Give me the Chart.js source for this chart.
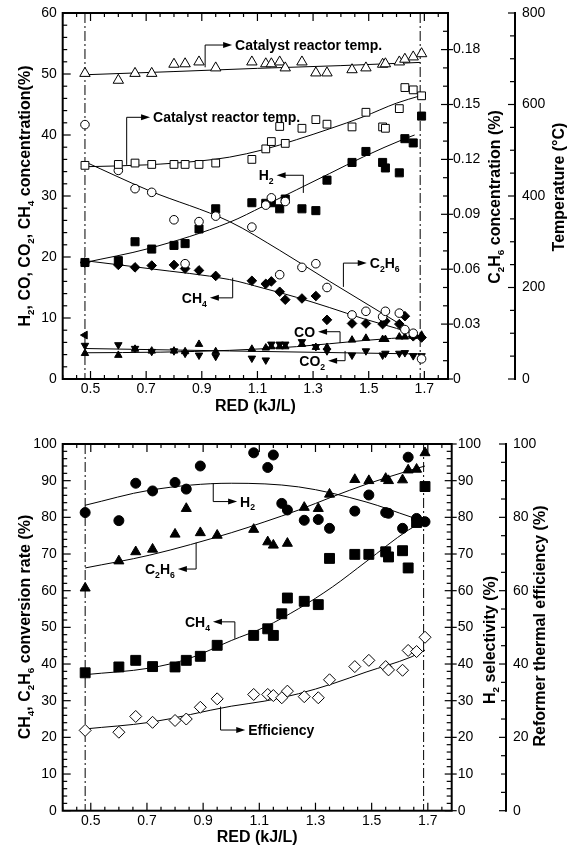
<!DOCTYPE html>
<html>
<head>
<meta charset="utf-8">
<script src="https://cdn.jsdelivr.net/npm/chart.js@4.4.1/dist/chart.umd.min.js"></script>
<style>
  body { margin: 0; background: #fff; }
  .wrap { position: relative; width: 578px; height: 847px; }
  canvas { position: absolute; left: 0; top: 0; }
</style>
</head>
<body>
<div class="wrap">
  <canvas id="top" width="578" height="847"></canvas>
  <canvas id="bottom" width="578" height="847"></canvas>
</div>
<script>
// RED (kJ/L) of every measurement, shared by all series
const red = [0.48, 0.60, 0.66, 0.72, 0.80, 0.84, 0.89, 0.95, 1.08, 1.13, 1.15, 1.18, 1.20, 1.26, 1.31, 1.35, 1.44, 1.49, 1.55, 1.56, 1.61, 1.63, 1.66, 1.69]

// top panel
const tempTriangle = [668, 653, 668, 668, 688, 689, 693, 680, 693, 689, 689, 693, 680, 693, 669, 669, 676, 680, 688, 689, 693, 699, 704, 711]
const tempSquare = [467, 469, 472, 469, 469, 469, 469, 472, 480, 503, 519, 552, 515, 548, 567, 557, 551, 583, 551, 548, 591, 637, 632, 619]
const c2h6Conc = [0.139, 0.114, 0.104, 0.102, 0.087, 0.063, 0.086, 0.089, 0.083, 0.095, 0.099, 0.057, 0.097, 0.061, 0.063, 0.050, 0.035, 0.037, 0.034, 0.037, 0.036, 0.027, 0.025, 0.011]
const h2Conc = [19.1, 19.4, 22.5, 21.3, 21.9, 22.2, 24.6, 27.9, 28.9, 28.8, 28.9, 27.9, 29.5, 27.9, 27.6, 32.6, 35.5, 37.3, 35.5, 34.6, 33.8, 39.4, 38.7, 43.1]
const ch4Conc = [19.1, 18.7, 18.3, 18.6, 18.7, 18.1, 17.8, 16.9, 16.1, 15.6, 16.0, 14.3, 13.0, 13.2, 13.6, 9.7, 9.1, 9.1, 9.0, 9.5, 9.0, 10.3, 7.0, 6.8]
const coConc = [4.2, 3.9, 4.9, 4.6, 4.6, 4.5, 5.7, 4.5, 4.9, 5.1, 5.3, 5.3, 5.3, 5.7, 5.2, 5.2, 6.4, 6.7, 6.5, 6.5, 6.9, 6.9, 7.0, 7.2]
const co2Conc = [5.5, 5.6, 5.0, 4.5, 4.6, 4.2, 3.9, 3.7, 3.4, 3.1, 5.7, 5.7, 5.7, 6.1, 5.3, 4.6, 3.9, 4.6, 3.9, 4.2, 4.2, 4.3, 3.8, 3.8]
const extraPointX = [0.48]
const extraPointY = [7.2]

// fitted curves of the top panel
const tempTriFitX = [0.48, 0.8, 1.1, 1.4, 1.685]
const tempTriFitY = [665, 672, 679, 685, 692]
const tempSqFitX = [0.48, 0.7, 0.9, 1.0, 1.12, 1.24, 1.36, 1.48, 1.6, 1.685]
const tempSqFitY = [464, 468, 477, 485, 501, 523, 547, 573, 603, 619]
const c2h6FitX = [0.48, 0.71, 1.0, 1.18, 1.36, 1.54, 1.685]
const c2h6FitY = [0.1187, 0.103, 0.086, 0.0703, 0.0533, 0.0367, 0.0233]
const h2FitX = [0.48, 0.71, 1.0, 1.12, 1.24, 1.36, 1.48, 1.63, 1.665]
const h2FitY = [19.1, 21.4, 25.7, 28.3, 31.0, 33.7, 36.4, 39.4, 40.0]
const ch4FitX = [0.48, 0.71, 1.0, 1.12, 1.24, 1.36, 1.48, 1.6, 1.685]
const ch4FitY = [19.4, 18.1, 16.3, 14.9, 13.4, 11.7, 9.9, 8.3, 7.0]
const coFitX = [0.48, 0.75, 1.0, 1.24, 1.48, 1.685]
const coFitY = [4.3, 4.4, 4.7, 5.3, 6.3, 7.0]
const co2FitX = [0.48, 1.0, 1.685]
const co2FitY = [5.0, 4.6, 4.1]

// bottom panel
const h2Selectivity = [81.3, 79.1, 89.3, 87.2, 89.5, 87.7, 94.0, null, 97.6, 93.6, 97.0, 83.8, 82.0, 79.2, 79.4, 77.0, 81.7, 86.1, 81.3, 81.1, 77.0, 96.4, 79.7, 78.8]
const c2h6Conversion = [60.7, 68.1, 70.6, 71.3, 75.4, 82.4, 75.8, 75.1, 76.7, 73.3, 72.4, null, 72.9, 82.7, 82.4, 86.3, 90.3, 90.0, 90.6, 90.0, 90.2, 92.9, 93.1, 97.6]
const ch4Conversion = [37.6, 39.2, 41.0, 39.3, 39.2, 41.0, 42.1, 45.1, 47.8, 49.6, 47.8, 53.7, 58.0, 57.1, 56.2, 68.8, 69.9, 69.9, 70.6, 69.2, 70.9, 66.2, 78.6, 88.4]
const efficiency = [21.9, 21.4, 25.7, 24.1, 24.6, 25.0, 28.2, 30.5, 31.7, 31.7, 31.4, 30.8, 32.6, 31.1, 30.8, 35.7, 39.3, 41.0, 39.3, 38.4, 38.3, 43.7, 43.4, 47.3]

const selFitX = [0.48, 0.71, 1.0, 1.24, 1.48, 1.64, 1.685]
const selFitY = [83.3, 87.4, 89.3, 88.3, 84.2, 80.1, 79.0]
const c2h6ConvFitX = [0.48, 0.71, 1.0, 1.12, 1.24, 1.36, 1.48, 1.64, 1.69]
const c2h6ConvFitY = [66.2, 69.7, 75.8, 78.8, 82.0, 85.6, 89.0, 92.9, 94.0]
const ch4ConvFitX = [0.48, 0.71, 0.85, 1.0, 1.12, 1.24, 1.36, 1.48, 1.63, 1.685]
const ch4ConvFitY = [37.1, 38.9, 41.5, 46.4, 50.1, 55.1, 61.0, 67.9, 76.5, 78.8]
const effFitX = [0.48, 0.71, 1.0, 1.12, 1.24, 1.36, 1.48, 1.64, 1.69]
const effFitY = [22.3, 24.1, 28.5, 29.9, 31.9, 34.6, 37.8, 41.9, 43.8]

// tick labels
const xTickLabels = ['0.5', '0.7', '0.9', '1.1', '1.3', '1.5', '1.7']
const concTicks = ['0', '10', '20', '30', '40', '50', '60']
const c2h6Ticks = ['0', '0.03', '0.06', '0.09', '0.12', '0.15', '0.18']
const tempTicks = ['0', '200', '400', '600', '800']
const convTicks = ['0', '10', '20', '30', '40', '50', '60', '70', '80', '90', '100']
const selTicks = ['0', '10', '20', '30', '40', '50', '60', '70', '80', '90', '100']
const effTicks = ['0', '20', '40', '60', '80', '100']

const refLines = [0.48, 1.685]
const FONT = '"Liberation Sans", Arial, sans-serif'

const pts = (xs, ys) => xs.map((x, i) => ({ x, y: ys[i] })).filter(p => p.y != null)

const marks = (xs, ys, axis, style) => ({
  data: pts(xs, ys), yAxisID: axis, showLine: false, order: 0,
  pointBorderColor: '#000', pointBorderWidth: 1, ...style
})
const open = { pointBackgroundColor: '#fff' }
const solid = { pointBackgroundColor: '#000' }

const fit = (xs, ys, axis) => ({
  data: pts(xs, ys), yAxisID: axis, showLine: true, pointRadius: 0, order: 1,
  borderColor: '#000', borderWidth: 1, cubicInterpolationMode: 'monotone'
})

const isLabel = (labels, v) => labels.some(l => Math.abs(Number(l) - v) < 1e-7)

const steps = (scale, step) => {
  const out = []
  const n = Math.floor((scale.max - scale.min) / step + 1e-6)
  for (let i = 0; i <= n; i++) out.push(scale.min + i * step)
  return out
}

const seg = (ctx, x0, y0, x1, y1) => {
  ctx.beginPath(); ctx.moveTo(x0, y0); ctx.lineTo(x1, y1); ctx.stroke()
}

// text where '_' makes the next character a subscript
function richText(ctx, str, x, y, size, align) {
  const parts = []
  for (let i = 0; i < str.length; i++) {
    if (str[i] === '_') { parts.push({ t: str[i + 1], sub: true }); i++ }
    else if (parts.length && !parts[parts.length - 1].sub) parts[parts.length - 1].t += str[i]
    else parts.push({ t: str[i], sub: false })
  }
  const subSize = size * 0.62
  let total = 0
  for (const p of parts) {
    ctx.font = 'bold ' + (p.sub ? subSize : size) + 'px ' + FONT
    p.w = ctx.measureText(p.t).width
    total += p.w
  }
  let cx = align === 'center' ? x - total / 2 : align === 'right' ? x - total : x
  ctx.textAlign = 'left'
  ctx.textBaseline = 'alphabetic'
  for (const p of parts) {
    ctx.font = 'bold ' + (p.sub ? subSize : size) + 'px ' + FONT
    ctx.fillText(p.t, cx, p.sub ? y + size * 0.28 : y)
    cx += p.w
  }
}

function makeDecor(cfg) {
  return {
    id: 'decor',
    beforeDatasetsDraw(chart) {
      const ctx = chart.ctx, a = chart.chartArea, xs = chart.scales.x
      ctx.save()
      ctx.strokeStyle = '#000'
      ctx.lineWidth = 1
      ctx.setLineDash([10, 3, 2, 3])
      for (const v of refLines) {
        const px = xs.getPixelForValue(v)
        seg(ctx, px, a.top, px, a.bottom)
      }
      ctx.restore()
    },
    afterDraw(chart) {
      const ctx = chart.ctx, a = chart.chartArea, s = chart.scales
      ctx.save()
      ctx.strokeStyle = '#000'
      ctx.fillStyle = '#000'
      ctx.lineWidth = 2
      ctx.strokeRect(a.left, a.top, a.right - a.left, a.bottom - a.top)

      // x axis ticks on both borders
      ctx.lineWidth = 1.2
      for (const v of steps(s.x, 0.05)) {
        const px = s.x.getPixelForValue(v)
        const len = isLabel(xTickLabels, v) ? 8 : 4
        seg(ctx, px, a.bottom, px, a.bottom - len)
        seg(ctx, px, a.top, px, a.top + len)
      }
      ctx.font = '14px ' + FONT
      ctx.textAlign = 'center'
      ctx.textBaseline = 'top'
      for (const l of xTickLabels) ctx.fillText(l, s.x.getPixelForValue(Number(l)), a.bottom + 3)

      // left axis
      const L = cfg.left, ls = s[L.id]
      for (const v of steps(ls, L.step)) {
        const py = ls.getPixelForValue(v)
        seg(ctx, a.left, py, a.left + (isLabel(L.labels, v) ? 8 : 4.5), py)
      }
      ctx.font = '14px ' + FONT
      ctx.textAlign = 'right'
      ctx.textBaseline = 'middle'
      for (const l of L.labels) ctx.fillText(l, a.left - 6, ls.getPixelForValue(Number(l)))

      // right border axis
      const R = cfg.right, rs = s[R.id]
      for (const v of steps(rs, R.step)) {
        const py = rs.getPixelForValue(v)
        const major = isLabel(R.labels, v)
        seg(ctx, a.right - (major ? 7 : 5), py, a.right + (major ? 5 : 0), py)
      }
      ctx.font = '14px ' + FONT
      ctx.textAlign = 'left'
      for (const l of R.labels) ctx.fillText(l, a.right + R.pad, rs.getPixelForValue(Number(l)))

      // detached outer axis
      const O = cfg.outer, os = s[O.id]
      ctx.lineWidth = 2
      seg(ctx, O.x, a.top - 1, O.x, a.bottom + 1)
      ctx.lineWidth = 1.2
      for (const v of steps(os, O.step)) {
        const py = os.getPixelForValue(v)
        seg(ctx, O.x - (isLabel(O.labels, v) ? 7 : 5), py, O.x, py)
      }
      ctx.font = '14px ' + FONT
      ctx.textAlign = 'left'
      for (const l of O.labels) ctx.fillText(l, O.x + 7, os.getPixelForValue(Number(l)))

      // axis titles
      richText(ctx, 'RED (kJ/L)', (a.left + a.right) / 2, cfg.xTitleY, 16, 'center')
      for (const t of cfg.titles) {
        ctx.save()
        ctx.translate(t.x, t.y)
        ctx.rotate(-Math.PI / 2)
        richText(ctx, t.text, 0, 0, 16, 'center')
        ctx.restore()
      }

      // leader arrows with labels
      ctx.lineWidth = 1
      const xs = s.x, ys = s[cfg.leaderAxis]
      for (const d of cfg.leaders) {
        const x0 = xs.getPixelForValue(d.x)
        const y0 = ys.getPixelForValue(d.from)
        const y1 = ys.getPixelForValue(d.to)
        const x1 = xs.getPixelForValue(d.tip)
        const dir = Math.sign(x1 - x0)
        ctx.beginPath()
        ctx.moveTo(x0, y0); ctx.lineTo(x0, y1); ctx.lineTo(x1 - dir * 6, y1)
        ctx.stroke()
        ctx.beginPath()
        ctx.moveTo(x1, y1); ctx.lineTo(x1 - dir * 9, y1 - 3); ctx.lineTo(x1 - dir * 9, y1 + 3)
        ctx.closePath(); ctx.fill()
        richText(ctx, d.text, x1 + dir * 3, y1 + 5, 14, dir > 0 ? 'left' : 'right')
      }
      ctx.restore()
    }
  }
}

const baseOptions = (padding, scales) => ({
  responsive: false,
  animation: false,
  events: [],
  layout: { padding },
  scales,
  plugins: { legend: { display: false }, tooltip: { enabled: false } }
})

const xScale = { type: 'linear', min: 0.4, max: 1.785, display: false }

new Chart(document.getElementById('top'), {
  type: 'scatter',
  data: {
    datasets: [
      marks(red, tempTriangle, 'yTemp', { ...open, pointStyle: 'triangle', pointRadius: 6 }),
      marks(red, tempSquare, 'yTemp', { ...open, pointStyle: 'rect', pointRadius: 5.5 }),
      marks(red, c2h6Conc, 'yC2', { ...open, pointStyle: 'circle', pointRadius: 4.3 }),
      marks(red, h2Conc, 'y', { ...solid, pointStyle: 'rect', pointRadius: 5.7 }),
      marks(red, ch4Conc, 'y', { ...solid, pointStyle: 'rectRot', pointRadius: 4.8 }),
      marks(red, coConc, 'y', { ...solid, pointStyle: 'triangle', pointRadius: 4.3 }),
      marks(red, co2Conc, 'y', { ...solid, pointStyle: 'triangle', pointRotation: 180, pointRadius: 4.3 }),
      marks(extraPointX, extraPointY, 'y', { ...solid, pointStyle: 'triangle', pointRotation: -90, pointRadius: 4.5 }),
      fit(tempTriFitX, tempTriFitY, 'yTemp'),
      fit(tempSqFitX, tempSqFitY, 'yTemp'),
      fit(c2h6FitX, c2h6FitY, 'yC2'),
      fit(h2FitX, h2FitY, 'y'),
      fit(ch4FitX, ch4FitY, 'y'),
      fit(coFitX, coFitY, 'y'),
      fit(co2FitX, co2FitY, 'y')
    ]
  },
  options: baseOptions({ left: 62.7, right: 130, top: 13, bottom: 468 }, {
    x: xScale,
    y: { type: 'linear', min: 0, max: 60, display: false },
    yC2: { type: 'linear', position: 'right', min: 0, max: 0.2, display: false },
    yTemp: { type: 'linear', position: 'right', min: 0, max: 800, display: false }
  }),
  plugins: [makeDecor({
    left: { id: 'y', labels: concTicks, step: 2 },
    right: { id: 'yC2', labels: c2h6Ticks, step: 0.01, pad: 5 },
    outer: { id: 'yTemp', x: 515, labels: tempTicks, step: 50 },
    xTitleY: 411,
    titles: [
      { text: 'H_2, CO, CO_2, CH_4 concentration(%)', x: 29.5, y: 196 },
      { text: 'C_2H_6 concentration (%)', x: 500, y: 197 },
      { text: 'Temperature (°C)', x: 563.5, y: 187 }
    ],
    leaderAxis: 'y',
    leaders: [
      { text: 'Catalyst reactor temp.', x: 0.912, from: 51.1, to: 54.75, tip: 1.009 },
      { text: 'Catalyst reactor temp.', x: 0.630, from: 35.1, to: 42.9, tip: 0.714 },
      { text: 'H_2', x: 1.265, from: 30.5, to: 33.4, tip: 1.169 },
      { text: 'C_2H_6', x: 1.409, from: 15.1, to: 19.0, tip: 1.493 },
      { text: 'CH_4', x: 1.011, from: 16.6, to: 13.3, tip: 0.929 },
      { text: 'CO', x: 1.397, from: 5.9, to: 7.75, tip: 1.318 },
      { text: 'CO_2', x: 1.415, from: 4.6, to: 3.0, tip: 1.354 }
    ]
  })]
})

new Chart(document.getElementById('bottom'), {
  type: 'scatter',
  data: {
    datasets: [
      marks(red, h2Selectivity, 'ySel', { ...solid, pointStyle: 'circle', pointRadius: 5 }),
      marks(red, c2h6Conversion, 'y', { ...solid, pointStyle: 'triangle', pointRadius: 5.8 }),
      marks(red, ch4Conversion, 'y', { ...solid, pointStyle: 'rect', pointRadius: 7 }),
      marks(red, efficiency, 'yEff', { ...open, pointStyle: 'rectRot', pointRadius: 6 }),
      fit(selFitX, selFitY, 'ySel'),
      fit(c2h6ConvFitX, c2h6ConvFitY, 'y'),
      fit(ch4ConvFitX, ch4ConvFitY, 'y'),
      fit(effFitX, effFitY, 'yEff')
    ]
  },
  options: baseOptions({ left: 62.7, right: 126.3, top: 444, bottom: 36.3 }, {
    x: xScale,
    y: { type: 'linear', min: 0, max: 100, display: false },
    ySel: { type: 'linear', position: 'right', min: 0, max: 100, display: false },
    yEff: { type: 'linear', position: 'right', min: 0, max: 100, display: false }
  }),
  plugins: [makeDecor({
    left: { id: 'y', labels: convTicks, step: 2 },
    right: { id: 'ySel', labels: selTicks, step: 2, pad: 6 },
    outer: { id: 'yEff', x: 506, labels: effTicks, step: 5 },
    xTitleY: 842,
    titles: [
      { text: 'CH_4, C_2H_6 conversion rate (%)', x: 29.5, y: 627 },
      { text: 'H_2 selectivity (%)', x: 494.5, y: 640 },
      { text: 'Reformer thermal efficiency (%)', x: 545, y: 626 }
    ],
    leaderAxis: 'y',
    leaders: [
      { text: 'H_2', x: 0.936, from: 89.3, to: 84.3, tip: 1.021 },
      { text: 'C_2H_6', x: 0.875, from: 73.1, to: 65.9, tip: 0.81 },
      { text: 'CH_4', x: 1.013, from: 46.9, to: 51.5, tip: 0.935 },
      { text: 'Efficiency', x: 0.962, from: 28.4, to: 22.0, tip: 1.05 }
    ]
  })]
})
</script>
</body>
</html>
